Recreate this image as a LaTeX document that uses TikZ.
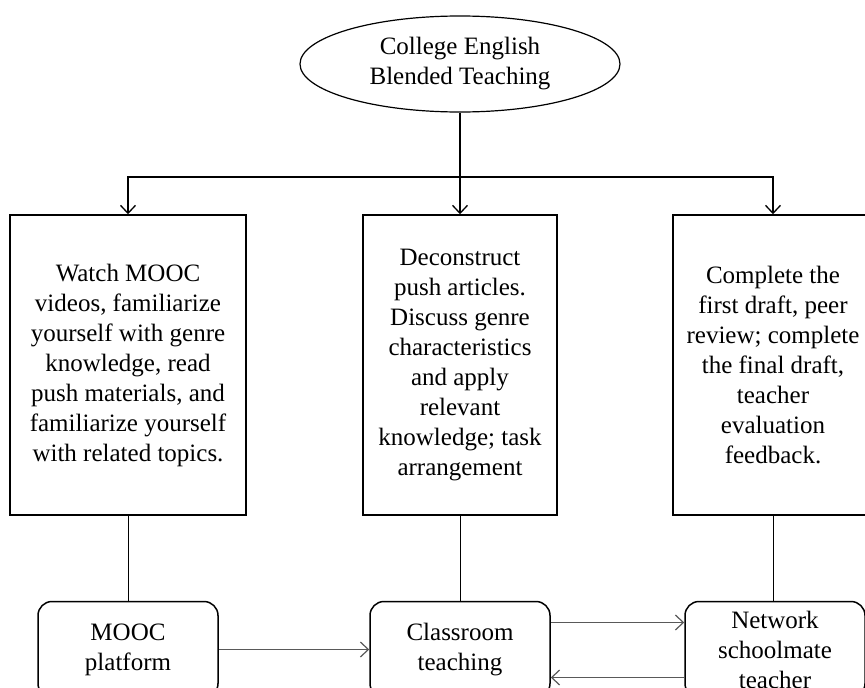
\documentclass[tikz,border=0pt]{standalone}
\usepackage{fontspec}
\setmainfont{Liberation Serif}
\usetikzlibrary{arrows.meta, shapes.geometric, positioning}

\tikzset{
	stage/.style={draw, line width=1.5pt, align=center, minimum height=300pt, inner sep=0pt},
	platform/.style={draw, line width=1.5pt, rounded corners=14pt, align=center, minimum width=180pt, minimum height=96pt, inner sep=0pt},
	feed/.style={line width=1.3pt, -{Straight Barb[length=8pt, width=15pt]}},
	link/.style={gray!70!black, line width=1.2pt, -{Straight Barb[length=8pt, width=15pt]}}
}

\begin{document}
\begin{tikzpicture}[x=1pt, y=-1pt, font=\fontsize{25}{30}\selectfont]
	\useasboundingbox (0,0) rectangle (865,688);
	
	\node[draw, ellipse, line width=1.2pt, minimum width=320pt, minimum height=96pt, inner sep=0pt, align=center] (blend) at (460,64) {College English\\Blended Teaching};
	
	\node[stage, minimum width=236pt] (watch) 	at (128,365) {Watch MOOC\\videos, familiarize\\yourself with genre\\knowledge, read\\push materials, and\\familiarize yourself\\with related topics.};
	\node[stage, minimum width=194pt] (discuss) at (460,365) {Deconstruct\\push articles.\\Discuss genre\\characteristics\\and apply\\relevant\\knowledge; task\\arrangement};
	\node[stage, minimum width=200pt] (draft) 	at (773,365) {Complete the\\first draft, peer\\review; complete\\the final draft,\\teacher\\evaluation\\feedback.};
	
	\node[platform, below=85pt of watch] 			(mooc) 	{MOOC\\platform};
	\node[platform, below=85pt of discuss] 		(class) {Classroom\\teaching};
	\node[platform, below=85pt of draft, xshift=2pt] (net) 	{Network\\schoolmate\\teacher};
	
	\coordinate (split) at (460,177);
	\draw[feed] (blend.south) -- (discuss.north);
	\draw[feed] (split) -| (watch.north);
	\draw[feed] (split) -| (draft.north);
	
	\draw[line width=0.8pt] (watch.south) -- (watch.south |- mooc.north);
	\draw[line width=0.8pt] (discuss.south) -- (class.north);
	\draw[line width=0.8pt] (draft.south) -- (draft.south |- net.north);
	
	\draw[link] (mooc.east) -- (class.west);
	\draw[link] ([yshift=27pt]class.east) -- ([yshift=27pt]net.west);
	\draw[link] ([yshift=-28pt]net.west) -- ([yshift=-28pt]class.east);
\end{tikzpicture}
\end{document}
